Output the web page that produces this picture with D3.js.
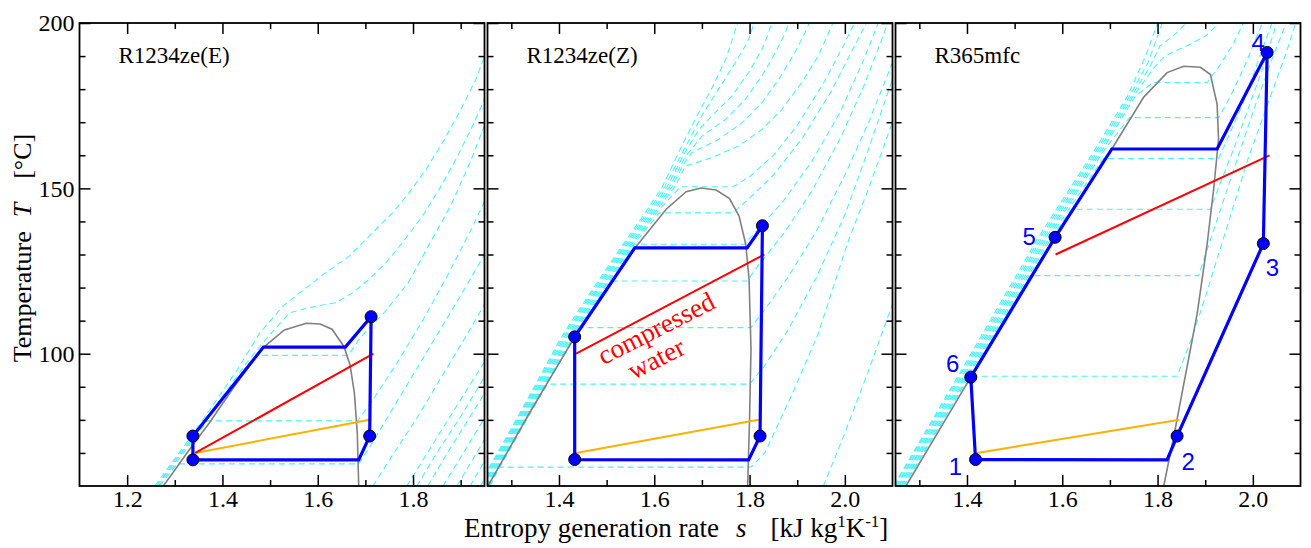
<!DOCTYPE html>
<html>
<head>
<meta charset="utf-8">
<script src="https://cdn.jsdelivr.net/npm/d3@7"></script>
<style>
    body { margin: 0; background: #fff; }
    svg { display: block; font-family: "Liberation Serif", "Times New Roman", serif; }
</style>
</head>
<body>
<svg id="chart" width="1311" height="548"></svg>
<script>
// ---- data: s [kJ/kgK], T [degC] ----
var fluids = ["R1234ze(E)", "R1234ze(Z)", "R365mfc"];
var sDomains = [[1.1, 1.95], [1.25, 2.1], [1.25, 2.1]];
var tDomain = [60, 200];
var sMajorTicks = [[1.2, 1.4, 1.6, 1.8], [1.4, 1.6, 1.8, 2.0], [1.4, 1.6, 1.8, 2.0]];
var sMinorTicks = [[1.3, 1.5, 1.7, 1.9], [1.3, 1.5, 1.7, 1.9], [1.3, 1.5, 1.7, 1.9]];
var tMajorTicks = [100, 150, 200];
var tMinorTicks = [70, 80, 90, 110, 120, 130, 140, 160, 170, 180, 190];

// saturation domes
var domeE = [[1.276, 60], [1.338, 72.5], [1.372, 79], [1.422, 89.5], [1.485, 101.8], [1.53, 107.2], [1.576, 109.2],
    [1.605, 109], [1.63, 107.4], [1.655, 102.2], [1.668, 96.5], [1.677, 88], [1.683, 76], [1.686, 60]];
var domeZ = [[1.251, 60], [1.339, 82.3], [1.433, 105.1], [1.499, 119.4], [1.559, 131.9], [1.625, 143.7], [1.667, 149],
    [1.698, 150.1], [1.73, 149.5], [1.758, 146.9], [1.778, 141.6], [1.792, 133.1], [1.799, 122.5], [1.803, 101.4],
    [1.8, 80.2], [1.796, 60]];
var domeM = [[1.272, 60], [1.408, 92.9], [1.585, 135.2], [1.704, 161.9], [1.771, 177.6], [1.82, 185], [1.855, 186.9],
    [1.89, 186.6], [1.911, 184.4], [1.925, 175.4], [1.928, 164.9], [1.918, 150.1], [1.904, 133.1], [1.883, 112],
    [1.855, 90.8], [1.834, 74.9], [1.813, 60]];

// cycles (blue)
var cycleE = [[1.338, 67.9], [1.338, 75.1], [1.486, 102], [1.658, 102], [1.712, 111.2], [1.709, 75.1], [1.686, 67.9], [1.338, 67.9]];
var cycleZ = [[1.433, 68], [1.433, 105.1], [1.559, 132], [1.795, 132], [1.827, 138.7], [1.822, 75.1], [1.798, 67.9], [1.433, 68]];
var cycleM = [[1.418, 68], [1.82, 67.9], [1.841, 75.1], [2.022, 133.3], [2.03, 191.1], [1.925, 161.9], [1.704, 161.9],
    [1.585, 135.2], [1.408, 92.9], [1.418, 68]];

// state points (dots)
var statesE = [[1.338, 67.9], [1.338, 75.1], [1.712, 111.2], [1.709, 75.1]];
var statesZ = [[1.433, 68], [1.433, 105.1], [1.827, 138.7], [1.822, 75.1]];
var statesM = [[1.418, 68], [1.841, 75.1], [2.022, 133.3], [2.03, 191.1], [1.585, 135.2], [1.408, 92.9]];
var stateNamesM = ["1", "2", "3", "4", "5", "6"];

// heat source water (red) and cooling water (orange)
var hotE = [[1.343, 70], [1.717, 100]];
var hotZ = [[1.436, 100], [1.831, 130]];
var hotM = [[1.586, 130], [2.035, 160]];
var coldE = [[1.343, 70], [1.709, 80]];
var coldZ = [[1.436, 70], [1.819, 80]];
var coldM = [[1.421, 70], [1.846, 80]];

// isobars (cyan dashed)
var isobarsE = [
    [[1.268, 60], [1.305, 66.7], [1.686, 66.7], [1.71, 72], [1.76, 84], [1.81, 96], [1.86, 108], [1.91, 120], [1.95, 130]],
    [[1.266, 60], [1.334, 73], [1.368, 79.7], [1.684, 79.7], [1.72, 87], [1.77, 98], [1.82, 110], [1.87, 123], [1.92, 137], [1.95, 146]],
    [[1.263, 60], [1.331, 73], [1.416, 89.5], [1.47, 99.5], [1.664, 99.5], [1.69, 105], [1.74, 112.5], [1.79, 121.5], [1.83, 132],
        [1.88, 145], [1.92, 158], [1.95, 169]],
    [[1.261, 60], [1.328, 73], [1.405, 88], [1.452, 97.5], [1.492, 104.5], [1.541, 112.4], [1.597, 114.4], [1.638, 115.4],
        [1.673, 118.4], [1.708, 122.5], [1.743, 127.5], [1.778, 133.6], [1.82, 141.6], [1.855, 149.7], [1.89, 158.8],
        [1.925, 168.9], [1.953, 178]],
    [[1.258, 60], [1.322, 72.5], [1.39, 86.5], [1.435, 96], [1.477, 106], [1.527, 114.4], [1.562, 118.4], [1.617, 124.5],
        [1.666, 129.5], [1.715, 136.6], [1.757, 142.6], [1.792, 148.7], [1.827, 155.7], [1.862, 163.8], [1.897, 172.9],
        [1.932, 183], [1.953, 191]],
    [[1.716, 60], [1.76, 70], [1.81, 81], [1.86, 93], [1.91, 105], [1.95, 115]],
    [[1.787, 60], [1.83, 70], [1.88, 81.5], [1.93, 93], [1.95, 97.5]],
    [[1.808, 60], [1.85, 70], [1.9, 81], [1.95, 93]],
    [[1.831, 60], [1.87, 69.5], [1.92, 81], [1.95, 88]],
    [[1.863, 60], [1.91, 71], [1.95, 80.5]],
    [[1.892, 60], [1.95, 74]],
    [[1.92, 60], [1.95, 67.5]],
    [[1.941, 60], [1.95, 62]]
];
var isobarsZ = [
    [[1.256, 60], [1.272, 65.7], [1.803, 65.7], [1.832, 70], [1.89, 88], [1.944, 106], [2.007, 134], [2.05, 150], [2.1, 170]],
    [[1.254, 60], [1.341, 82.3], [1.376, 90.8], [1.8, 90.8], [1.83, 96], [1.88, 107], [1.94, 123], [2.0, 142], [2.05, 162], [2.1, 183]],
    [[1.252, 60], [1.339, 82.3], [1.434, 105], [1.446, 107.9], [1.803, 107.9], [1.83, 113], [1.88, 123], [1.94, 137], [2.0, 154],
        [2.05, 170], [2.1, 188]],
    [[1.25, 60], [1.337, 82.3], [1.432, 105], [1.497, 119.4], [1.51, 122], [1.795, 122], [1.82, 127], [1.87, 136], [1.93, 149],
        [1.99, 165], [2.04, 181], [2.08, 196], [2.09, 200]],
    [[1.248, 60], [1.335, 82.3], [1.429, 105], [1.494, 119.4], [1.553, 131.9], [1.558, 133.1], [1.789, 133.1], [1.82, 138],
        [1.87, 146], [1.93, 158], [1.99, 173], [2.04, 189], [2.07, 200]],
    [[1.246, 60], [1.333, 82.3], [1.426, 105], [1.491, 119.4], [1.55, 131.9], [1.611, 142.6], [1.765, 142.6], [1.8, 147],
        [1.85, 154], [1.91, 165], [1.97, 179], [2.02, 193], [2.045, 200]],
    [[1.244, 60], [1.331, 82.3], [1.423, 105], [1.488, 119.4], [1.547, 131.9], [1.607, 143], [1.655, 150.5], [1.765, 150.5],
        [1.8, 153.5], [1.85, 160], [1.9, 169], [1.96, 183], [2.0, 194], [2.02, 200]],
    [[1.242, 60], [1.329, 82.3], [1.42, 105], [1.485, 119.4], [1.544, 131.9], [1.603, 143], [1.643, 150.5], [1.665, 156.7],
        [1.721, 159.3], [1.777, 162.8], [1.826, 167.8], [1.868, 173.9], [1.909, 181.9], [1.944, 190], [1.975, 200]],
    [[1.24, 60], [1.327, 82.3], [1.417, 105], [1.482, 119.4], [1.541, 131.9], [1.599, 143], [1.637, 150.5], [1.66, 157],
        [1.679, 160.8], [1.735, 164.8], [1.784, 169.8], [1.826, 175.9], [1.861, 182.9], [1.895, 191], [1.916, 197], [1.925, 200]],
    [[1.238, 60], [1.325, 82.3], [1.414, 105], [1.479, 119.4], [1.538, 131.9], [1.595, 143], [1.632, 150.5], [1.665, 159.5],
        [1.7, 165.8], [1.749, 170.8], [1.791, 176.9], [1.826, 184], [1.854, 191], [1.875, 197], [1.882, 200]],
    [[1.236, 60], [1.323, 82.3], [1.411, 105], [1.476, 119.4], [1.535, 131.9], [1.591, 143], [1.627, 150.5], [1.665, 161],
        [1.695, 168], [1.721, 171.9], [1.763, 177.9], [1.798, 185], [1.826, 192], [1.84, 197], [1.846, 200]],
    [[1.234, 60], [1.321, 82.3], [1.408, 105], [1.473, 119.4], [1.532, 131.9], [1.587, 143], [1.622, 150.5], [1.66, 161],
        [1.7, 172], [1.735, 180], [1.77, 188], [1.795, 194], [1.81, 200]],
    [[1.232, 60], [1.319, 82.3], [1.405, 105], [1.47, 119.4], [1.529, 131.9], [1.583, 143], [1.617, 150.5], [1.655, 162],
        [1.69, 172], [1.72, 180], [1.75, 189], [1.775, 200]],
    [[1.955, 60], [2.0, 76], [2.05, 95], [2.1, 115]]
];
var isobarsM = [
    [[1.268, 60], [1.405, 93.2], [1.841, 93.2], [1.87, 104], [1.9, 117], [1.93, 131], [1.96, 145], [1.99, 159], [2.03, 175],
        [2.07, 191], [2.09, 200]],
    [[1.266, 60], [1.404, 92.9], [1.533, 123.6], [1.886, 123.6], [1.91, 134], [1.94, 147], [1.97, 160], [2.0, 173], [2.04, 189], [2.07, 200]],
    [[1.263, 60], [1.401, 92.9], [1.578, 135.2], [1.62, 143.7], [1.911, 143.7], [1.93, 151], [1.96, 162], [1.99, 174], [2.02, 186], [2.05, 200]],
    [[1.261, 60], [1.398, 92.9], [1.574, 135.2], [1.686, 159], [1.928, 159], [1.95, 166], [1.98, 176], [2.01, 188], [2.04, 200]],
    [[1.258, 60], [1.395, 92.9], [1.57, 135.2], [1.69, 162], [1.741, 171.4], [1.928, 171.4], [1.95, 177], [1.98, 186], [2.0, 193], [2.02, 200]],
    [[1.256, 60], [1.392, 92.9], [1.566, 135.2], [1.686, 162], [1.752, 177.6], [1.79, 182], [1.904, 182], [1.93, 187], [1.96, 194], [1.98, 200]],
    [[1.253, 60], [1.389, 92.9], [1.562, 135.2], [1.682, 162], [1.748, 177.6], [1.79, 186], [1.815, 190], [1.86, 193], [1.9, 196], [1.93, 200]],
    [[1.251, 60], [1.386, 92.9], [1.558, 135.2], [1.678, 162], [1.744, 177.6], [1.785, 187], [1.805, 193], [1.84, 197], [1.86, 200]],
    [[1.248, 60], [1.383, 92.9], [1.554, 135.2], [1.674, 162], [1.74, 177.6], [1.78, 188], [1.81, 200]],
    [[1.246, 60], [1.38, 92.9], [1.55, 135.2], [1.67, 162], [1.736, 177.6], [1.775, 190], [1.8, 200]]
];

var panels = [
    {isobars: isobarsE, dome: domeE, cycle: cycleE, hot: hotE, cold: coldE, states: statesE},
    {isobars: isobarsZ, dome: domeZ, cycle: cycleZ, hot: hotZ, cold: coldZ, states: statesZ},
    {isobars: isobarsM, dome: domeM, cycle: cycleM, hot: hotM, cold: coldM, states: statesM}
];

// ---- layout ----
var panelWidth = 405;
var panelHeight = 463;
var panelTop = 23;
var panelLefts = [79.5, 487.5, 895.5];

var svg = d3.select("#chart");

function drawTicks(g, x, y, i) {
    var fmt = d3.format(".1f");

    g.append("g")
        .attr("class", "axis")
        .attr("transform", "translate(0," + panelHeight + ")")
        .call(d3.axisBottom(x).tickValues(sMajorTicks[i]).tickSize(-11).tickPadding(4).tickFormat(fmt));
    g.append("g")
        .attr("class", "axis")
        .attr("transform", "translate(0," + panelHeight + ")")
        .call(d3.axisBottom(x).tickValues(sMinorTicks[i]).tickSize(-6).tickFormat(""));
    g.append("g")
        .attr("class", "axis")
        .call(d3.axisTop(x).tickValues(sMajorTicks[i]).tickSize(-11).tickFormat(""));
    g.append("g")
        .attr("class", "axis")
        .call(d3.axisTop(x).tickValues(sMinorTicks[i]).tickSize(-6).tickFormat(""));

    g.append("g")
        .attr("class", "axis")
        .call(d3.axisLeft(y).tickValues(tMajorTicks).tickSize(-11).tickPadding(5)
            .tickFormat(i === 0 ? d3.format("d") : ""));
    g.append("g")
        .attr("class", "axis")
        .call(d3.axisLeft(y).tickValues(tMinorTicks).tickSize(-6).tickFormat(""));
    g.append("g")
        .attr("class", "axis")
        .attr("transform", "translate(" + panelWidth + ",0)")
        .call(d3.axisRight(y).tickValues(tMajorTicks).tickSize(-11).tickFormat(""));
    g.append("g")
        .attr("class", "axis")
        .attr("transform", "translate(" + panelWidth + ",0)")
        .call(d3.axisRight(y).tickValues(tMinorTicks).tickSize(-6).tickFormat(""));

    g.selectAll(".axis .domain").remove();
    g.selectAll(".axis line").attr("stroke", "#000").attr("stroke-width", 1.5);
    g.selectAll(".axis text")
        .attr("fill", "#000")
        .style("font-family", "Liberation Serif")
        .style("font-size", "24px");
}

function drawPanel(i) {
    var p = panels[i];
    var x = d3.scaleLinear().domain(sDomains[i]).range([0, panelWidth]);
    var y = d3.scaleLinear().domain(tDomain).range([panelHeight, 0]);
    var line = d3.line().x(function (d) { return x(d[0]); }).y(function (d) { return y(d[1]); });

    var g = svg.append("g").attr("transform", "translate(" + panelLefts[i] + "," + panelTop + ")");

    g.append("clipPath").attr("id", "clip" + i)
        .append("rect").attr("width", panelWidth).attr("height", panelHeight);
    var plot = g.append("g").attr("clip-path", "url(#clip" + i + ")");

    plot.selectAll(".isobar")
        .data(p.isobars)
        .enter().append("path")
        .attr("class", "isobar")
        .attr("d", line)
        .attr("fill", "none")
        .attr("stroke", "#4cf2f7")
        .attr("stroke-width", 1.1)
        .attr("stroke-dasharray", "6,4");

    plot.append("path").attr("d", line(p.dome))
        .attr("fill", "none").attr("stroke", "#808080").attr("stroke-width", 1.6);

    plot.append("path").attr("d", line(p.cold))
        .attr("fill", "none").attr("stroke", "#ffb000").attr("stroke-width", 2);
    plot.append("path").attr("d", line(p.hot))
        .attr("fill", "none").attr("stroke", "#ff0000").attr("stroke-width", 2);

    plot.append("path").attr("d", line(p.cycle))
        .attr("fill", "none").attr("stroke", "#0000ff").attr("stroke-width", 3.2)
        .attr("stroke-linejoin", "miter");

    plot.selectAll(".state")
        .data(p.states)
        .enter().append("circle")
        .attr("class", "state")
        .attr("cx", function (d) { return x(d[0]); })
        .attr("cy", function (d) { return y(d[1]); })
        .attr("r", 6)
        .attr("fill", "#0000ff")
        .attr("stroke", "#000")
        .attr("stroke-width", 1);

    g.append("rect")
        .attr("width", panelWidth).attr("height", panelHeight)
        .attr("fill", "none").attr("stroke", "#000").attr("stroke-width", 1.8);

    drawTicks(g, x, y, i);

    g.append("text")
        .attr("x", 39).attr("y", 40)
        .style("font-size", "23px")
        .text(fluids[i]);

    if (i === 1) {
        var note = [["compressed", 1.604, 107.7], ["water", 1.604, 98.5]];
        g.selectAll(".note")
            .data(note)
            .enter().append("text")
            .attr("class", "note")
            .attr("transform", function (d) { return "translate(" + x(d[1]) + "," + y(d[2]) + ") rotate(-27)"; })
            .attr("text-anchor", "middle")
            .attr("dominant-baseline", "central")
            .attr("fill", "#ff0000")
            .style("font-size", "27px")
            .text(function (d) { return d[0]; });
    }

    if (i === 2) {
        var nudge = [[-20, 7], [11, 25], [9, 24], [-9, -10], [-26, -1], [-18, -14]];
        g.selectAll(".stateName")
            .data(p.states)
            .enter().append("text")
            .attr("class", "stateName")
            .attr("x", function (d, k) { return x(d[0]) + nudge[k][0]; })
            .attr("y", function (d, k) { return y(d[1]) + nudge[k][1]; })
            .attr("text-anchor", "middle")
            .attr("dominant-baseline", "central")
            .attr("fill", "#0000ff")
            .style("font-family", "Liberation Sans")
            .style("font-size", "24px")
            .text(function (d, k) { return stateNamesM[k]; });
    }
}

for (var i = 0; i < panels.length; i++) {
    drawPanel(i);
}

// axis titles
var yTitle = svg.append("text")
    .attr("transform", "translate(22,248) rotate(-90)")
    .attr("text-anchor", "middle")
    .attr("dominant-baseline", "central")
    .style("font-size", "26px");
yTitle.append("tspan").text("Temperature");
yTitle.append("tspan").attr("dx", 14).style("font-style", "italic").text("T");
yTitle.append("tspan").attr("dx", 24).text("[°C]");

var xTitle = svg.append("text")
    .attr("x", 464).attr("y", 537)
    .style("font-size", "27px");
xTitle.append("tspan").text("Entropy generation rate");
xTitle.append("tspan").attr("dx", 17).style("font-style", "italic").text("s");
xTitle.append("tspan").attr("dx", 24).text("[kJ kg");
xTitle.append("tspan").attr("dy", -10).style("font-size", "17px").text("1");
xTitle.append("tspan").attr("dy", 10).text("K");
xTitle.append("tspan").attr("dy", -10).style("font-size", "17px").text("-1");
xTitle.append("tspan").attr("dy", 10).text("]");
</script>
</body>
</html>
